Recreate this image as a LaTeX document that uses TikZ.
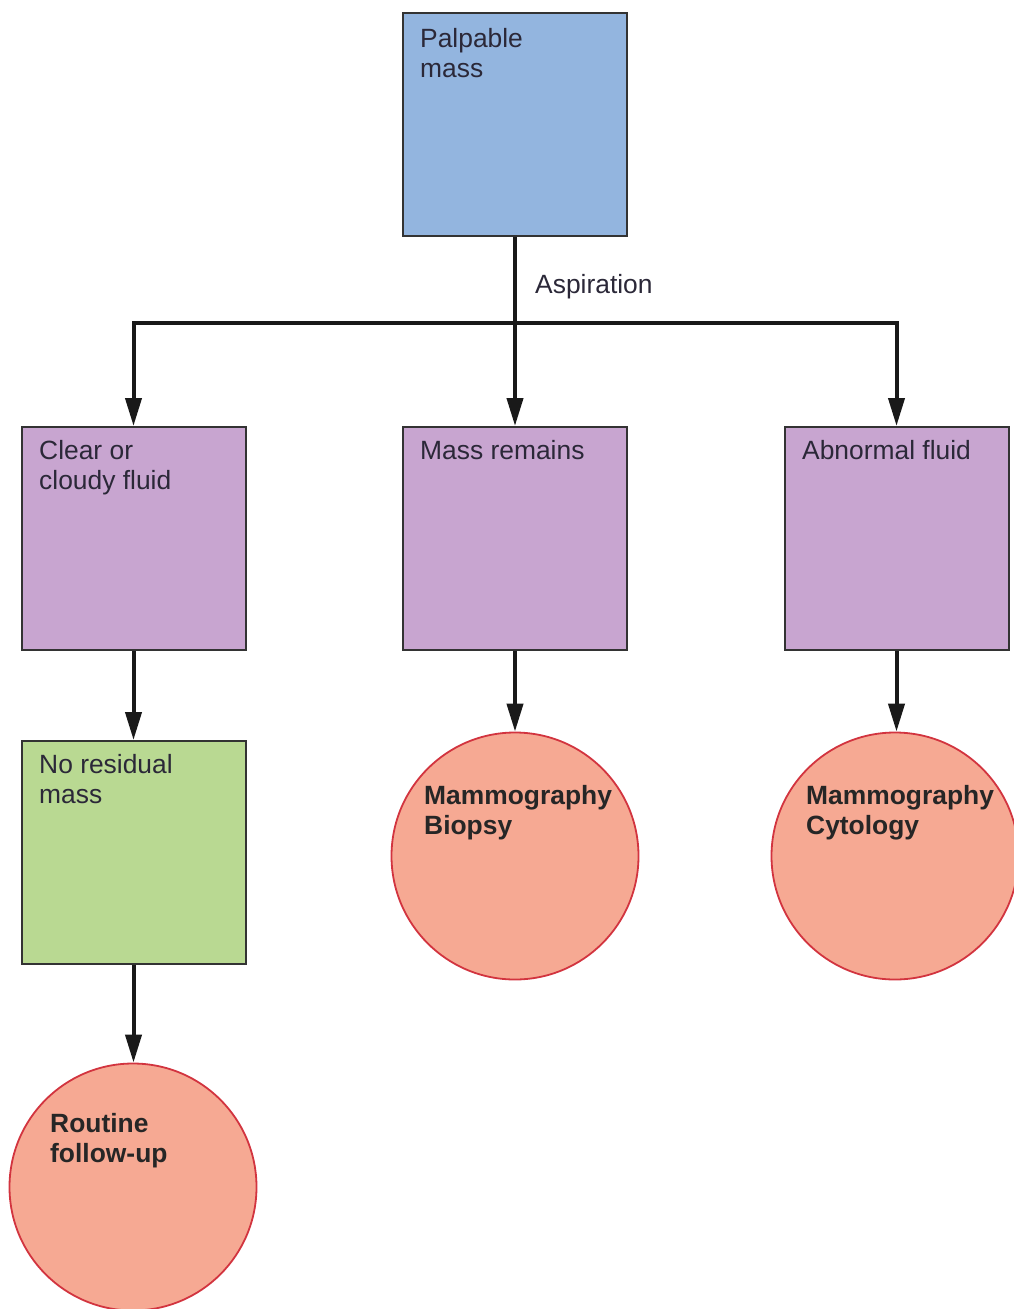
\documentclass[tikz,border=0pt]{standalone}
\usepackage{fontspec}
\setmainfont{Liberation Sans}
\usetikzlibrary{arrows.meta}
\definecolor{cblue}{HTML}{93B5DF}
\definecolor{cpurple}{HTML}{C8A5D0}
\definecolor{cgreen}{HTML}{B9D992}
\definecolor{csalmon}{HTML}{F6A993}
\definecolor{cred}{HTML}{D2343F}
\definecolor{cborder}{HTML}{333333}
\definecolor{ctext}{HTML}{2B2838}
\tikzset{
  boxnode/.style={draw=cborder, line width=2pt, minimum width=224pt, minimum height=223pt, inner sep=0pt},
  circnode/.style={circle, draw=cred, line width=1.8pt, fill=csalmon, minimum size=247pt, inner sep=0pt},
  txt/.style={anchor=north west, align=left, inner sep=0pt, text=ctext, font=\fontsize{26.4}{30}\selectfont},
  btxt/.style={anchor=north west, align=left, inner sep=0pt, text=black!85, font=\fontsize{26.4}{30}\selectfont\bfseries},
  conn/.style={line width=4pt, black!90},
  arr/.style={conn, -{Triangle[length=28pt,width=16pt]}}
}
\begin{document}
\begin{tikzpicture}[x=1pt,y=-1pt]
\useasboundingbox (0,0) rectangle (1013,1309);
% boxes
\node[boxnode, fill=cblue] (pm) at (515,124.5) {};
\node[boxnode, fill=cpurple] (cf) at (133.5,538.5) {};
\node[boxnode, fill=cpurple] (mr) at (515,538.5) {};
\node[boxnode, fill=cpurple] (af) at (896.5,538.5) {};
\node[boxnode, fill=cgreen] (nr) at (133.5,852.5) {};
% circles
\node[circnode] (bio) at (515,856) {};
\node[circnode] (cyt) at (895,856) {};
\node[circnode] (rf) at (133,1187) {};
% texts
\node[txt] (tpm) at (420,28.5) {Palpable\\mass};
\node[txt] (tcf) at (39,440.5) {Clear or\\cloudy fluid};
\node[txt] (tmr) at (420,440.5) {Mass remains};
\node[txt] (taf) at (802,440.5) {Abnormal fluid};
\node[txt] (tnr) at (39,754.5) {No residual\\mass};
\node[btxt] (tbio) at (424,785.5) {Mammography\\Biopsy};
\node[btxt] (tcyt) at (806,785.5) {Mammography\\Cytology};
\node[btxt] (trf) at (50,1113.5) {Routine\\follow-up};
\node[txt, anchor=base west] (asp) at (535,293) {Aspiration};
% connectors
\coordinate (j) at (515,323);
\draw[conn] (pm.south) -- (j);
\draw[arr] (j) -| (cf.north);
\draw[arr] (j) -- (mr.north);
\draw[arr] (j) -| (af.north);
\draw[arr] (cf.south) -- (nr.north);
\draw[arr] (mr.south) -- (bio.north);
\draw[arr] (af.south) -- (af.south |- cyt.north);
\draw[arr] (nr.south) -- (rf.north -| nr.south);
\end{tikzpicture}
\end{document}
